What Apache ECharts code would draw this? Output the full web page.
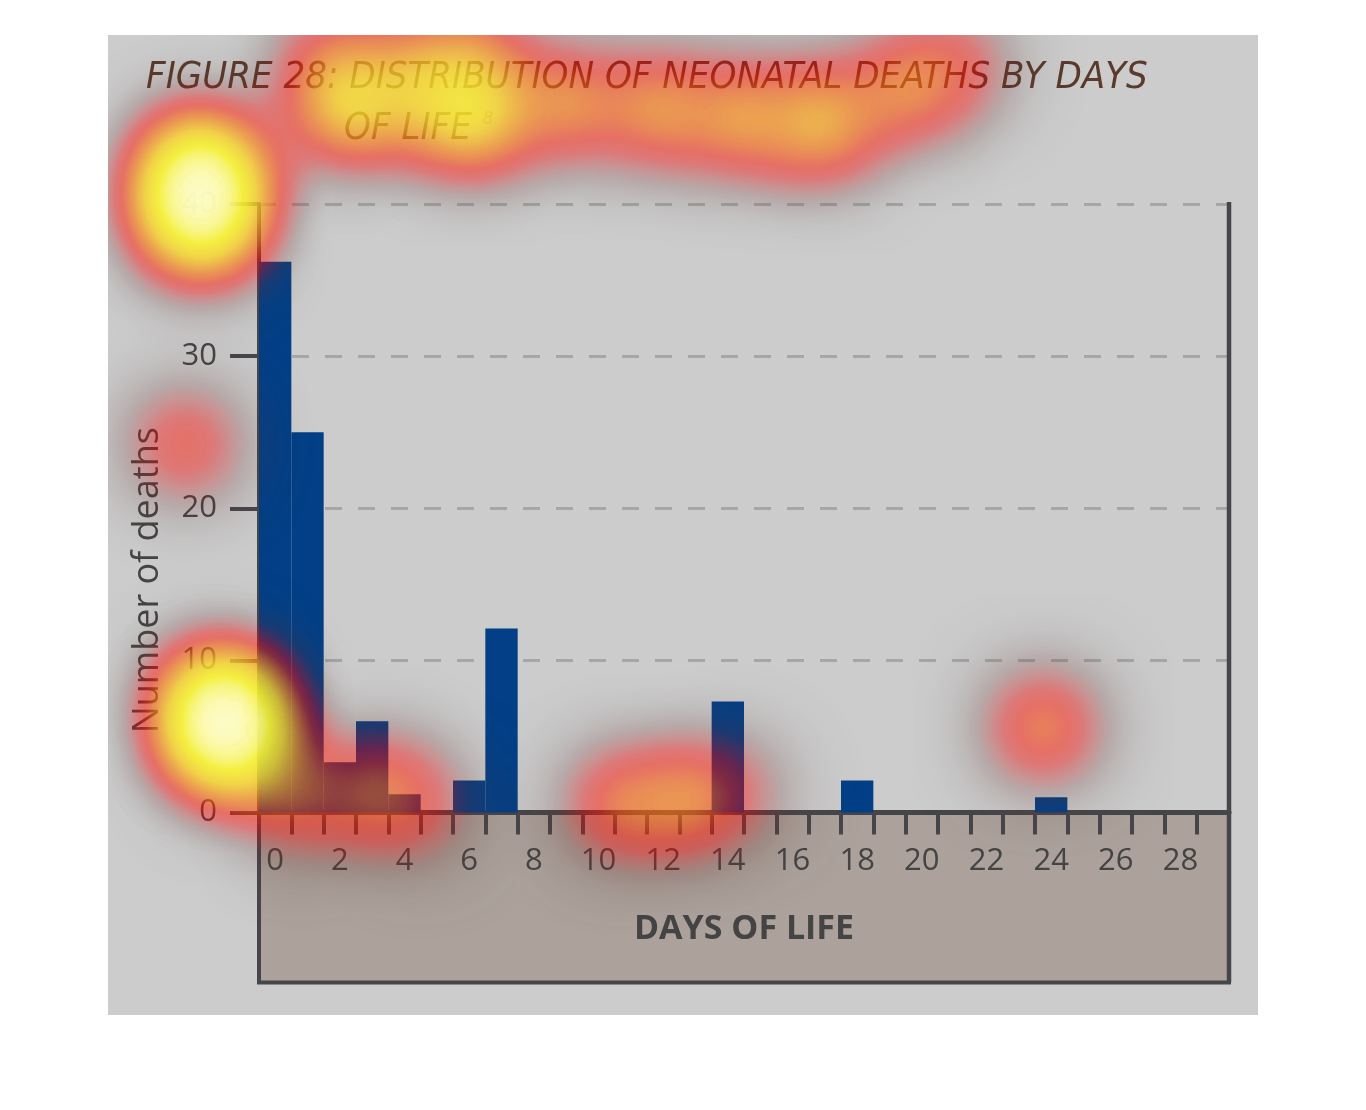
<!DOCTYPE html>
<html><head><meta charset="utf-8">
<script src="https://cdn.jsdelivr.net/npm/echarts@6/dist/echarts.min.js"></script>
<style>html,body{margin:0;padding:0;background:#fff}#c{width:1366px;height:1110px}</style>
</head><body><div id="c"></div>
<script>
// ---------- data ----------
const days = ['0','1','2','3','4','5','6','7','8','9','10','11','12','13','14','15','16','17','18','19','20','21','22','23','24','25','26','27','28','29'];
const deaths = [36.2, 25, 3.3, 6, 1.2, 0, 2.1, 12.1, 0, 0, 0, 0, 0, 0, 7.3, 0, 0, 0, 2.1, 0, 0, 0, 0, 0, 1, 0, 0, 0, 0, 0];
const yMin = 0, yMax = 40, yStep = 10;
const titleLine1 = 'FIGURE 28: DISTRIBUTION OF NEONATAL DEATHS BY DAYS';
const titleLine2 = 'OF LIFE';
const titleSup = '8';
const yName = 'Number of deaths';
const xName = 'DAYS OF LIFE';
// attention heat overlay: [day units, deaths units, weight]
const heatPoints = [
  // near the "40" tick label
  [-1.82, 43.0, 0.9], [-1.82, 41.4, 1], [-1.82, 40.0, 1], [-1.82, 40.0, 1], [-1.76, 38.0, 0.9], [-1.82, 41.4, 0.8],
  // title
  [2.82, 46.6, 1], [2.82, 46.6, 0.8], [6.53, 45.9, 1], [6.53, 45.9, 0.9], [4.98, 48.2, 0.8],
  [9.62, 46.6, 1], [12.4, 46.2, 1], [14.87, 45.6, 1], [17.4, 45.3, 1], [17.4, 45.3, 0.4],
  [20.1, 47.6, 0.9], [21.6, 49.2, 0.6], [6.53, 50.2, 0.7], [2.2, 50.0, 0.5],
  // y axis title
  [-2.28, 24.2, 0.85],
  // near the "10" tick label
  [-1.05, 6.0, 1], [-1.05, 6.0, 1], [-1.05, 6.0, 1], [-1.05, 6.0, 1], [-1.36, 8.0, 0.7], [-0.9, 3.4, 0.7],
  // along the baseline
  [1.27, 0.8, 0.8], [3.74, 1.5, 0.8], [4.97, 0.2, 0.5],
  [11.14, 0.5, 0.9], [13.3, 0.8, 0.9], [14.85, 1.5, 0.4],
  // near day 24
  [24.26, 5.6, 1]
];

// ---------- layout ----------
const GL = 259, GR = 1229, GT = 204, GB = 812.5;
const PANEL = {x: 108, y: 35, w: 1150, h: 980};
const BAND_BOTTOM = 982.5, FRAME_X = 1229, FRAME_TOP = 202;
const uPerPx = days.length / (GR - GL), vPerPx = (yMax - yMin) / (GB - GT);
const u0 = (PANEL.x - GL) * uPerPx, u1 = (PANEL.x + PANEL.w - GL) * uPerPx;
const v0 = (GB - (PANEL.y + PANEL.h)) * vPerPx, v1 = (GB - PANEL.y) * vPerPx;
echarts.registerMap('heatPanel', {
  type: 'FeatureCollection',
  features: [{type: 'Feature', properties: {name: 'panel'},
    geometry: {type: 'Polygon', coordinates: [[[u0, v0], [u1, v0], [u1, v1], [u0, v1], [u0, v0]]]}}]
});
const aspectFix = (PANEL.w / PANEL.h) / ((u1 - u0) / (v1 - v0));

const ink = '#46464a';
const titleFont = "'Liberation Sans Narrow', 'DejaVu Sans Condensed', 'Open Sans', sans-serif";
const chart = echarts.init(document.getElementById('c'), null, {renderer: 'canvas'});
chart.setOption({
  backgroundColor: '#ffffff',
  animation: false,
  title: [
    {text: titleLine1, left: 146, top: 59, padding: 0,
     textStyle: {fontFamily: titleFont, fontStyle: 'italic', fontWeight: 'normal', fontSize: 38, color: '#5a3a2a'}},
    {text: titleLine2 + ' {sup|' + titleSup + '}', left: 344, top: 110, padding: 0,
     textStyle: {fontFamily: titleFont, fontStyle: 'italic', fontWeight: 'normal', fontSize: 38, color: '#5a3a2a',
       rich: {sup: {fontFamily: titleFont, fontStyle: 'italic', fontSize: 18, color: '#9a8a80', verticalAlign: 'top', padding: [0, 0, 20, 0]}}}}
  ],
  grid: {left: GL, top: GT, width: GR - GL, height: GB - GT, show: false},
  geo: {
    map: 'heatPanel', left: PANEL.x, top: PANEL.y, width: PANEL.w, height: PANEL.h,
    aspectScale: aspectFix, roam: false, silent: true, z: 0,
    label: {show: false},
    itemStyle: {areaColor: 'rgba(0,0,0,0)', borderWidth: 0, borderColor: 'rgba(0,0,0,0)'},
    emphasis: {disabled: true}, select: {disabled: true}
  },
  visualMap: {
    type: 'continuous', show: false, min: 0, max: 1, seriesIndex: 1,
    inRange: {color: ['#4a3030', '#5d3535', '#6c2626', '#c11414', '#f50000', '#ff1500', '#fb5c0c', '#fa991b', '#f9d127', '#f8f331', '#fffff0']}
  },
  xAxis: {
    type: 'category', data: days, z: 1,
    axisLine: {show: true, lineStyle: {color: ink, width: 5}},
    axisTick: {show: true, interval: 0, length: 22, lineStyle: {color: ink, width: 4}},
    axisLabel: {interval: 1, margin: 33, fontFamily: 'Open Sans', fontSize: 31, color: '#444'},
    splitLine: {show: false},
    name: xName, nameLocation: 'middle', nameGap: 100,
    nameTextStyle: {fontFamily: 'Open Sans', fontWeight: 'bold', fontSize: 34, color: '#444'}
  },
  yAxis: {
    type: 'value', min: yMin, max: yMax, interval: yStep, z: 0,
    axisLine: {show: true, lineStyle: {color: ink, width: 4}},
    axisTick: {show: true, length: 29, lineStyle: {color: ink, width: 4}},
    axisLabel: {margin: 42, fontFamily: 'Open Sans', fontSize: 31, color: '#444'},
    splitLine: {show: true, lineStyle: {color: '#a6a6a6', width: 3, type: [17, 16]}},
    name: yName, nameLocation: 'middle', nameGap: 93,
    nameTextStyle: {fontFamily: 'Open Sans', fontSize: 36, color: '#444', padding: [0, 144, 0, 0]}
  },
  graphic: [
    {type: 'rect', z: -10, silent: true, shape: {x: PANEL.x, y: PANEL.y, width: PANEL.w, height: PANEL.h}, style: {fill: '#cccccc'}},
    {type: 'rect', z: -5, silent: true, shape: {x: GL, y: GB, width: FRAME_X - GL, height: BAND_BOTTOM - GB}, style: {fill: '#aca29b', stroke: ink, lineWidth: 4}},
    {type: 'line', z: 5, silent: true, shape: {x1: FRAME_X, y1: FRAME_TOP, x2: FRAME_X, y2: BAND_BOTTOM}, style: {stroke: ink, lineWidth: 4.5}}
  ],
  series: [
    {type: 'bar', data: deaths, barCategoryGap: '0%', itemStyle: {color: '#023f86'}, silent: true, z: 2},
    {type: 'heatmap', coordinateSystem: 'geo', geoIndex: 0, data: heatPoints, pointSize: 50, blurSize: 80,
     minOpacity: 0, maxOpacity: 1, z: 10, silent: true}
  ]
});
</script></body></html>
